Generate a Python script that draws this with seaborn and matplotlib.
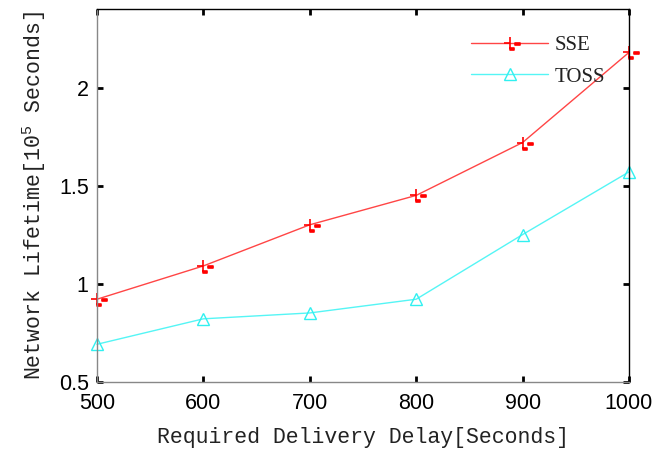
import numpy as np
import pandas as pd
import matplotlib
matplotlib.use("Agg")
import matplotlib.pyplot as plt
from matplotlib.path import Path
import seaborn as sns

delay = [500, 600, 700, 800, 900, 1000]
sse = [0.92, 1.09, 1.30, 1.45, 1.72, 2.18]
toss = [0.69, 0.82, 0.85, 0.92, 1.25, 1.57]
xticks = [500, 600, 700, 800, 900, 1000]
yticks = [0.5, 1.0, 1.5, 2.0]
yticklabels = ["0.5", "1", "1.5", "2"]

sns.set_style("white")
plt.rcParams["mathtext.fontset"] = "custom"
plt.rcParams["mathtext.rm"] = "Liberation Mono"
plt.rcParams["mathtext.it"] = "Liberation Mono"

# custom '+' marker with the small offset dashes seen in the reference
verts = [(0, 6), (0, -6), (-6, 0), (0, 0),
         (5, -0.5), (11, -0.5), (11, -2.2), (5, -2.2), (5, -0.5),
         (0, -5), (4, -5), (4, -7), (0, -7), (0, -5)]
codes = [Path.MOVETO, Path.LINETO, Path.MOVETO, Path.LINETO,
         Path.MOVETO, Path.LINETO, Path.LINETO, Path.LINETO, Path.CLOSEPOLY,
         Path.MOVETO, Path.LINETO, Path.LINETO, Path.LINETO, Path.CLOSEPOLY]
plus_marker = Path(verts, codes)

fig = plt.figure(figsize=(6.7, 4.53), dpi=100)
ax = fig.add_axes([97 / 670, 1 - 381.5 / 453, 532 / 670, 372.2 / 453])

df_sse = pd.DataFrame({"x": delay, "y": sse})
df_toss = pd.DataFrame({"x": delay, "y": toss})

sns.lineplot(data=df_sse, x="x", y="y", ax=ax, color="#ff4545", lw=1.0,
             marker=plus_marker, markersize=15, markeredgewidth=1.2,
             markeredgecolor="#ff0000", markerfacecolor="#ff0000", label="SSE",
             clip_on=False)
sns.lineplot(data=df_toss, x="x", y="y", ax=ax, color="#55f5f5", lw=1.0,
             marker="^", markersize=9, markerfacecolor="none",
             markeredgecolor="#30f0f0", markeredgewidth=1.0, label="TOSS",
             clip_on=False)

ax.set_xlim(500, 1000)
ax.set_ylim(0.5, 2.4)
ax.set_xticks(xticks)
ax.set_xticklabels([str(v) for v in xticks])
ax.set_yticks(yticks)
ax.set_yticklabels(yticklabels)

for s in ["left", "bottom"]:
    ax.spines[s].set_color("#888888")
for s in ["top", "right"]:
    ax.spines[s].set_color("black")
for s in ax.spines.values():
    s.set_linewidth(1.0)

ax.tick_params(axis="both", which="both", direction="in", length=4, width=2,
               color="black", top=True, right=True, bottom=True, left=True,
               labelsize=15.5, labelcolor="black")
ax.tick_params(axis="x", pad=8)
ax.tick_params(axis="y", pad=6)
for lab in ax.get_xticklabels() + ax.get_yticklabels():
    lab.set_fontfamily("Liberation Sans")

ax.set_xlabel("Required Delivery Delay[Seconds]", fontfamily="Liberation Mono",
              fontsize=15.5, labelpad=10, color="#222222")
ax.set_ylabel(r"Network Lifetime[10$^5$ Seconds]", fontfamily="Liberation Mono",
              fontsize=15.5, labelpad=8, color="#222222")

leg = ax.legend(loc="upper left", bbox_to_anchor=(0.703, 0.93), frameon=False,
                borderpad=0, borderaxespad=0, handlelength=3.7, handletextpad=0.3,
                labelspacing=0.58, prop={"family": "Liberation Serif", "size": 15})
for t in leg.get_texts():
    t.set_color("#222222")

fig.savefig("out.png", dpi=100)
